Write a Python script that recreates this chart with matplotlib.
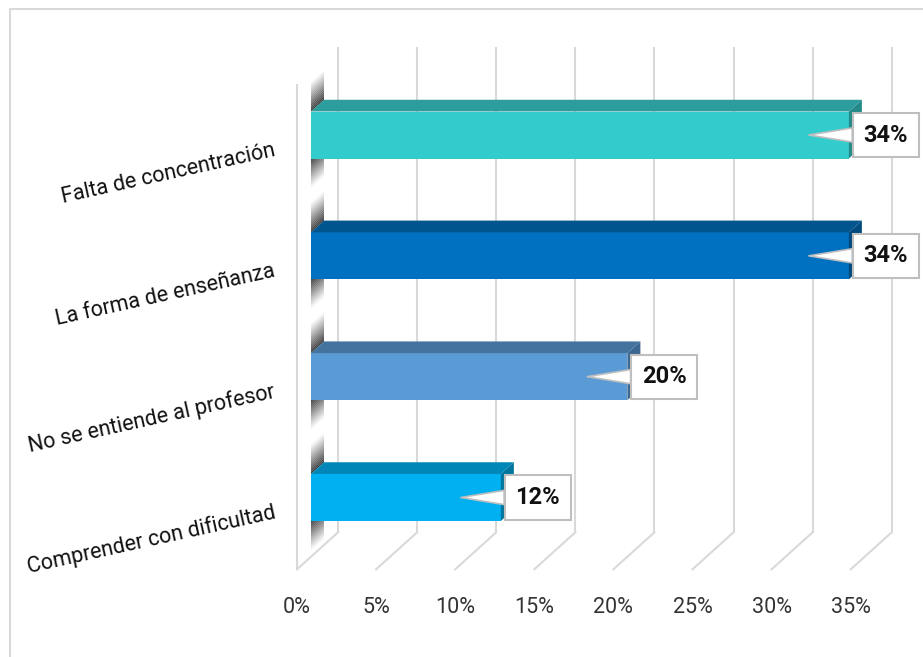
"""Horizontal 3D-style bar chart: causes of learning difficulty."""

import matplotlib

matplotlib.use("Agg")
import matplotlib.pyplot as plt
from matplotlib.lines import Line2D
from matplotlib.patches import Polygon

# data (bottom to top)
categories = [
    "Comprender con dificultad",
    "No se entiende al profesor",
    "La forma de enseñanza",
    "Falta de concentración",
]
values = [12, 20, 34, 34]
value_labels = ["12%", "20%", "34%", "34%"]
ticks = [0, 5, 10, 15, 20, 25, 30, 35]
tick_labels = ["0%", "5%", "10%", "15%", "20%", "25%", "30%", "35%"]

front_colors = ["#00B0F0", "#5B9BD5", "#0070C0", "#33CCCC"]
top_colors = ["#0087B8", "#44739F", "#00558F", "#2C9C9C"]
side_colors = ["#00769F", "#3B6791", "#004A7E", "#248A8A"]

GRID = "#D9D9D9"
W, H, DPI = 923, 657, 100

# pixel layout of the bar plane
X0_PX, PX_PCT = 311, 15.82
TOP_CAT_PX, PX_CAT = 135, 120.83
YLIM = (-0.7, 3.6)
RISE = 37 / 41          # vertical rise per pixel of depth
FRONT_D, BACK_D, BAR_D = -14, 27, 13
FLOOR, WALL_TOP = -0.49, 3.52
BAR_H = 47 / PX_CAT

plt.rcParams["font.family"] = ["Roboto", "DejaVu Sans"]

fig = plt.figure(figsize=(W / DPI, H / DPI), dpi=DPI)
y_bot_px = TOP_CAT_PX + (3 - YLIM[0]) * PX_CAT
y_top_px = TOP_CAT_PX - (YLIM[1] - 3) * PX_CAT
ax = fig.add_axes([X0_PX / W, 1 - y_bot_px / H, 35 * PX_PCT / W, (y_bot_px - y_top_px) / H])
ax.set_xlim(0, 35)
ax.set_ylim(*YLIM)
ax.axis("off")


def pt(x, y, d):
    """Shift a data point by d pixels of depth."""
    return x + d / PX_PCT, y + d * RISE / PX_CAT


def line(p, q, **kw):
    ax.add_line(Line2D([p[0], q[0]], [p[1], q[1]], clip_on=False, **kw))


# frame around the chart area
fig.add_artist(Line2D([10 / W, 10 / W, 1.0], [0.0, 1 - 9 / H, 1 - 9 / H],
                      transform=fig.transFigure, color=GRID, lw=1.5))

# walls and grid
line(pt(0, FLOOR, FRONT_D), pt(0, WALL_TOP, FRONT_D), color=GRID, lw=1.5, zorder=0.5)
for t in ticks:
    line(pt(t, FLOOR, BACK_D), pt(t, WALL_TOP, BACK_D), color=GRID, lw=1.5, zorder=0.5)
    line(pt(t, FLOOR, FRONT_D), pt(t, FLOOR, BACK_D), color=GRID, lw=1.5, zorder=0.5)

for t, lab in zip(ticks, tick_labels):
    x, y = pt(t, FLOOR, FRONT_D)
    ax.text(x, y - 38 / PX_CAT, lab, ha="center", va="center", fontsize=15.5,
            color="#333333", clip_on=False)

# shadows on the left wall
ext = 30
n = 16
bdx, bdy = BAR_D / PX_PCT, BAR_D * RISE / PX_CAT
for i in range(len(values)):
    lo, hi = i - BAR_H / 2, i + BAR_H / 2
    for k in range(n):
        s0, s1 = k * ext / n / PX_CAT, (k + 1) * ext / n / PX_CAT
        a = 0.95 * (1 - (k + 0.5) / n) ** 1.1
        for y0, y1 in ((hi + s0, hi + s1), (lo - s1, lo - s0)):
            ax.add_patch(Polygon([(0, y0), (bdx, y0 + bdy), (bdx, y1 + bdy), (0, y1)],
                                 closed=True, fc="#2A2A2A", ec="none", alpha=a,
                                 zorder=1, clip_on=False))

# bars
ax.barh(range(len(values)), values, height=BAR_H, color=front_colors, zorder=3)
for i, v in enumerate(values):
    lo, hi = i - BAR_H / 2, i + BAR_H / 2
    ax.add_patch(Polygon([(0, hi), (v, hi), (v + bdx, hi + bdy), (bdx, hi + bdy)],
                         closed=True, fc=top_colors[i], ec="none", zorder=3, clip_on=False))
    ax.add_patch(Polygon([(v, lo), (v, hi), (v + bdx, hi + bdy), (v + bdx, lo + bdy)],
                         closed=True, fc=side_colors[i], ec="none", zorder=3, clip_on=False))

# value callouts
for i, (v, lab) in enumerate(zip(values, value_labels)):
    ax.annotate(
        lab, xy=(v - 40 / PX_PCT, i), xytext=(v + 37 / PX_PCT, i),
        ha="center", va="center", fontsize=17, fontweight="bold", color="#111111",
        bbox=dict(boxstyle="square,pad=0.45", fc="white", ec="#BFBFBF", lw=1.5),
        arrowprops=dict(arrowstyle="wedge,tail_width=0.6,shrink_factor=0.5",
                        fc="white", ec="#BFBFBF", lw=1.2, shrinkA=0, shrinkB=0),
        zorder=5, annotation_clip=False,
    )

# category labels
for i, name in enumerate(categories):
    ax.text(-36 / PX_PCT, i - 15 / PX_CAT, name, ha="right", va="center",
            rotation=12.5, rotation_mode="anchor", fontsize=15.5, color="#111111",
            clip_on=False)

fig.savefig("out.png", dpi=DPI)
